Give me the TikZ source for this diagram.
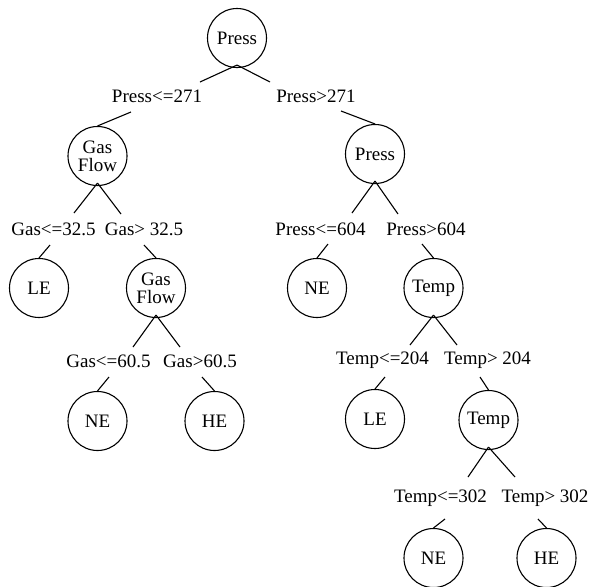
\documentclass[tikz,border=0pt]{standalone}
\usepackage{fontspec}
\setmainfont{Liberation Serif}
\begin{document}
\begin{tikzpicture}[x=1pt,y=-1pt,
  every path/.style={line width=1.1pt},
  dnode/.style={circle,draw,line width=1.1pt,minimum size=59pt,inner sep=0pt,
    align=center,font=\fontsize{19}{18}\selectfont},
  lbl/.style={anchor=base,inner sep=0pt,font=\fontsize{19}{18}\selectfont}]
\useasboundingbox (0,0) rectangle (590,587);

% decision and leaf nodes
\node[dnode] (r0)  at (237,38)    {Press};
\node[dnode] (g1)  at (97.5,156)  {Gas\\Flow};
\node[dnode] (p2)  at (375,154)   {Press};
\node[dnode] (le1) at (39,288)    {LE};
\node[dnode] (g2)  at (156,288)   {Gas\\Flow};
\node[dnode] (ne1) at (317,288)   {NE};
\node[dnode] (t1)  at (433.5,288) {Temp};
\node[dnode] (ne2) at (97.5,421)  {NE};
\node[dnode] (he1) at (214.5,421) {HE};
\node[dnode] (le2) at (375,419)   {LE};
\node[dnode] (t2)  at (488.5,420) {Temp};
\node[dnode] (ne3) at (433.5,558) {NE};
\node[dnode] (he2) at (546.5,558) {HE};

% split conditions
\node[lbl] (l1a) at (157,102)   {Press<=271};
\node[lbl] (l1b) at (316,102)   {Press>271};
\node[lbl] (l2a) at (53.5,235)  {Gas<=32.5};
\node[lbl] (l2b) at (144,235)   {Gas> 32.5};
\node[lbl] (l2c) at (320.5,235) {Press<=604};
\node[lbl] (l2d) at (426,235)   {Press>604};
\node[lbl] (l3a) at (108.5,367) {Gas<=60.5};
\node[lbl] (l3b) at (200,367)   {Gas>60.5};
\node[lbl] (l3c) at (382.5,364) {Temp<=204};
\node[lbl] (l3d) at (487.5,364) {Temp> 204};
\node[lbl] (l4a) at (440.5,502) {Temp<=302};
\node[lbl] (l4b) at (545,502)   {Temp> 302};

% branch ends above and below the conditions
\coordinate (a1a) at (200,82);  \coordinate (a1b) at (270,82);
\coordinate (c1a) at (131,112); \coordinate (c1b) at (341,111);
\coordinate (a2a) at (74,213);  \coordinate (a2b) at (121,214);
\coordinate (a2c) at (352,213); \coordinate (a2d) at (398,214);
\coordinate (c2a) at (50,245);  \coordinate (c2b) at (144,245);
\coordinate (c2c) at (328,244); \coordinate (c2d) at (422,244);
\coordinate (a3a) at (133,347); \coordinate (a3b) at (180,347);
\coordinate (a3c) at (410,345); \coordinate (a3d) at (457,345);
\coordinate (c3a) at (109,377); \coordinate (c3b) at (202,377);
\coordinate (c3c) at (385,377); \coordinate (c3d) at (480,377);
\coordinate (a4a) at (468,477); \coordinate (a4b) at (515,477);
\coordinate (c4a) at (445,519); \coordinate (c4b) at (538,519);

% branches (the two splits of a node cross just inside its outline)
\tikzset{fork/.style={yshift=3pt}}
\draw ([fork]r0.south) -- (a1a);  \draw ([fork]r0.south) -- (a1b);
\draw (c1a) -- (g1.north);  \draw (c1b) -- (p2.north);
\draw ([fork]g1.south) -- (a2a);  \draw ([fork]g1.south) -- (a2b);
\draw ([fork]p2.south) -- (a2c);  \draw ([fork]p2.south) -- (a2d);
\draw (c2a) -- (le1.north); \draw (c2b) -- (g2.north);
\draw (c2c) -- (ne1.north); \draw (c2d) -- (t1.north);
\draw ([fork]g2.south) -- (a3a);  \draw ([fork]g2.south) -- (a3b);
\draw ([fork]t1.south) -- (a3c);  \draw ([fork]t1.south) -- (a3d);
\draw (c3a) -- (ne2.north); \draw (c3b) -- (he1.north);
\draw (c3c) -- (le2.north); \draw (c3d) -- (t2.north);
\draw ([fork]t2.south) -- (a4a);  \draw ([fork]t2.south) -- (a4b);
\draw (c4a) -- (ne3.north); \draw (c4b) -- (he2.north);
\end{tikzpicture}
\end{document}
